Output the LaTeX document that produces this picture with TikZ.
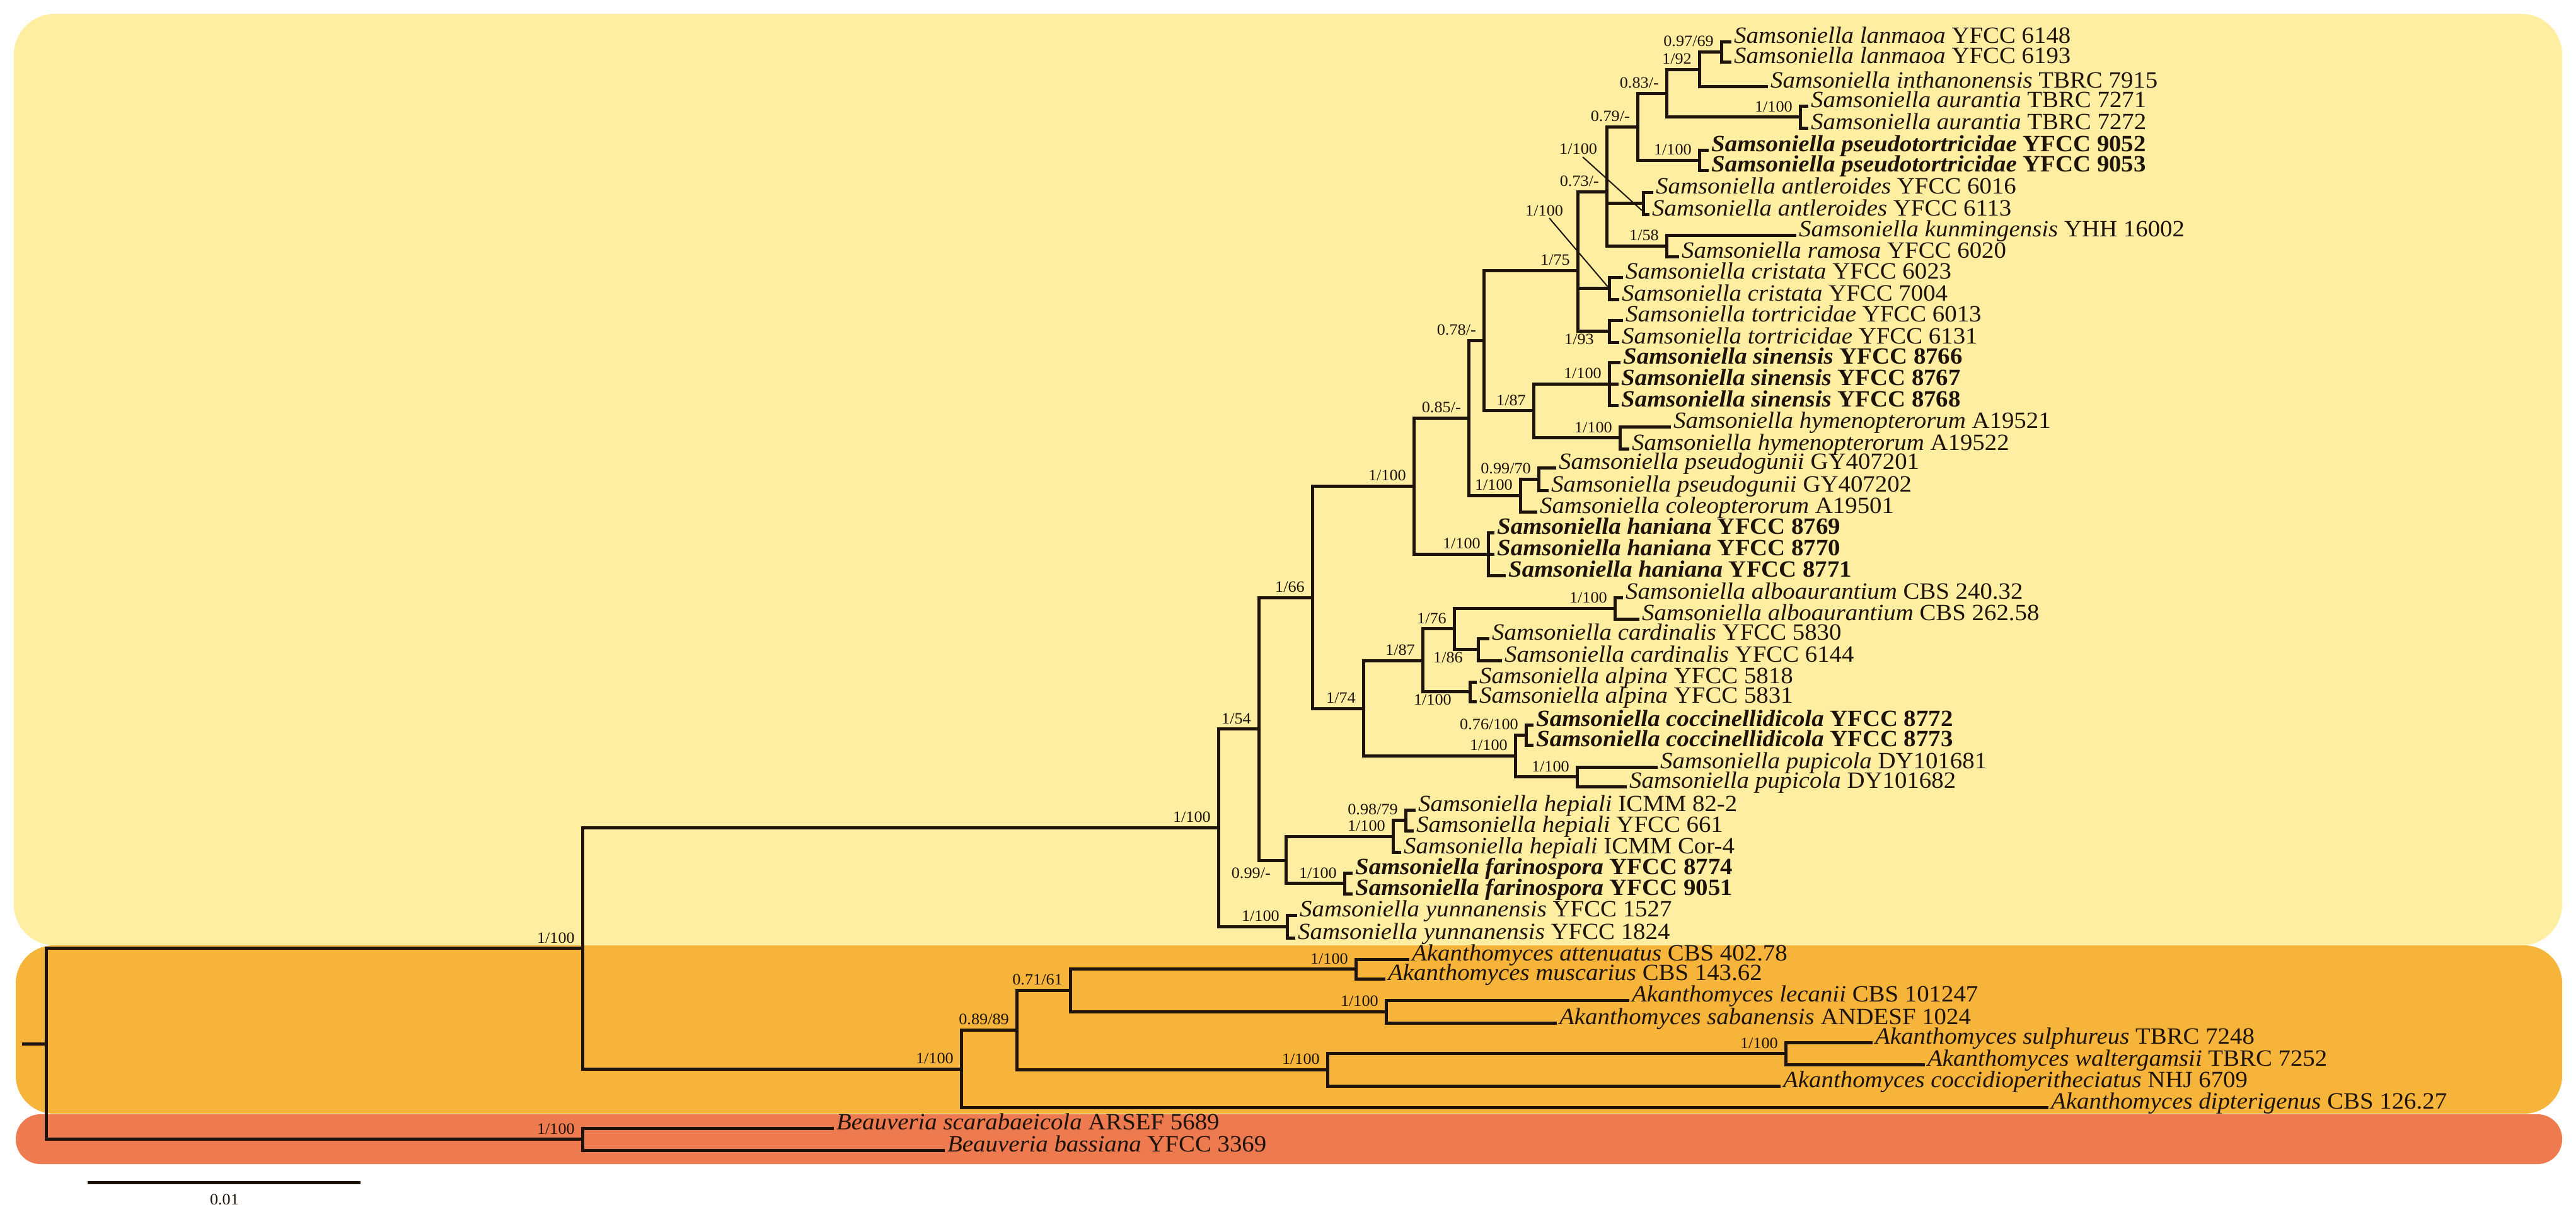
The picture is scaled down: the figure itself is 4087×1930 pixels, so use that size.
\documentclass[tikz,border=0pt]{standalone}
\usepackage{fontspec}
\setmainfont{Liberation Serif}[FakeStretch=1.05]
\definecolor{yelb}{HTML}{FDEEA1}
\definecolor{orgb}{HTML}{F6B53A}
\definecolor{redb}{HTML}{EE7A4F}
\definecolor{lc}{HTML}{1E1308}
\newcommand\tipfont{\fontsize{37}{38}\selectfont}
\newcommand\supfont{\fontsize{25}{26}\selectfont}
\newcommand\Sam[2]{\textit{Samsoniella #1} #2}
\newcommand\SamB[2]{\textbf{\textit{Samsoniella #1} #2}}
\newcommand\Aka[2]{\textit{Akanthomyces #1} #2}
\newcommand\Bea[2]{\textit{Beauveria #1} #2}
\tikzset{
  branch/.style={line width=5pt, draw=lc, line cap=rect},
  tiplab/.style={anchor=mid west, inner sep=0pt, xshift=7pt, font=\tipfont, text=lc},
  suplab/.style={anchor=south east, inner sep=0pt, xshift=-12pt, yshift=8pt, font=\supfont, text=lc},
  suplabb/.style={anchor=north east, inner sep=0pt, xshift=-12pt, yshift=-12pt, font=\supfont, text=lc},
  lead/.style={line width=2pt, draw=lc},
}
\newcommand\mktip[5]{\coordinate (#1) at (#2,#3); \draw[branch] (#4) |- (#1); \node[tiplab] (#1L) at (#1) {#5};}
\newcommand\brr[2]{\draw[branch] (#1) |- (#2);}
\newcommand\sv[3][]{\node[suplab,#1] (#2S) at (#2) {#3};}
\begin{document}
\begin{tikzpicture}[x=1pt,y=-1pt]
\useasboundingbox (0,0) rectangle (4087,1930);
% bands
\fill[yelb, rounded corners=65pt] (22,22) rectangle (4065,1500);
\fill[orgb, rounded corners=60pt] (25,1500) rectangle (4065,1767);
\fill[redb, rounded corners=39pt] (25,1768) rectangle (4065,1847);
% internal nodes
\coordinate (lan) at (2731,82);
\coordinate (s16) at (2696,110);
\coordinate (aur) at (2856,185.5);
\coordinate (s15) at (2644,148);
\coordinate (pse) at (2696,254);
\coordinate (s14) at (2598,201);
\coordinate (ant) at (2607,322.5);
\coordinate (km) at (2644,390);
\coordinate (s13) at (2549,304.5);
\coordinate (cri) at (2553,457.5);
\coordinate (tor) at (2553,525.5);
\coordinate (s11) at (2503,429);
\coordinate (sin) at (2553,609);
\coordinate (hym) at (2570,694.5);
\coordinate (s12) at (2433,651.5);
\coordinate (s10) at (2354,540);
\coordinate (pg) at (2441,760);
\coordinate (pgc) at (2412,786);
\coordinate (s9) at (2330,663);
\coordinate (han) at (2361,879);
\coordinate (s4) at (2243,771);
\coordinate (alb) at (2562,965);
\coordinate (car) at (2345,1030.5);
\coordinate (s8) at (2307,997.75);
\coordinate (alp) at (2332,1097.5);
\coordinate (s6) at (2257,1048);
\coordinate (coc) at (2421,1166);
\coordinate (pup) at (2502,1232.5);
\coordinate (s7) at (2404,1199);
\coordinate (s5) at (2163,1124);
\coordinate (s2) at (2082,948);
\coordinate (hepp) at (2230,1301.5);
\coordinate (hep) at (2210,1327);
\coordinate (far) at (2133,1401.5);
\coordinate (s3) at (2040,1365);
\coordinate (s1) at (1997,1156.5);
\coordinate (yun) at (2042,1470);
\coordinate (SA) at (1933,1313);
\coordinate (att) at (2151,1537.5);
\coordinate (lec) at (2199,1605);
\coordinate (a2) at (1698,1571.5);
\coordinate (sul) at (2833,1671.5);
\coordinate (a3) at (2106,1697);
\coordinate (a1) at (1613,1634.5);
\coordinate (AK) at (1525,1696);
\coordinate (S0) at (924,1504.5);
\coordinate (B) at (924,1807.5);
\coordinate (R) at (73,1656);
\coordinate (R0) at (37,1656);
% internal branches
\draw[branch] (R0) -- (R);
\brr{R}{S0} \brr{R}{B}
\brr{S0}{SA} \brr{S0}{AK}
\brr{SA}{s1} \brr{SA}{yun}
\brr{s1}{s2} \brr{s1}{s3}
\brr{s3}{hep} \brr{s3}{far} \brr{hep}{hepp}
\brr{s2}{s4} \brr{s2}{s5}
\brr{s5}{s6} \brr{s5}{s7}
\brr{s6}{s8} \brr{s6}{alp}
\brr{s8}{alb} \brr{s8}{car}
\brr{s7}{coc} \brr{s7}{pup}
\brr{s4}{s9} \brr{s4}{han}
\brr{s9}{s10} \brr{s9}{pgc} \brr{pgc}{pg}
\brr{s10}{s11} \brr{s10}{s12}
\brr{s12}{sin} \brr{s12}{hym}
\brr{s11}{s13} \brr{s11}{cri} \brr{s11}{tor}
\brr{s13}{s14} \brr{s13}{ant} \brr{s13}{km}
\brr{s14}{s15} \brr{s14}{pse}
\brr{s15}{s16} \brr{s15}{aur}
\brr{s16}{lan}
\brr{AK}{a1} \brr{a1}{a2} \brr{a1}{a3}
\brr{a2}{att} \brr{a2}{lec} \brr{a3}{sul}
% tips
\mktip{t01}{2744}{66}{lan}{\Sam{lanmaoa}{YFCC 6148}}
\mktip{t02}{2744}{98}{lan}{\Sam{lanmaoa}{YFCC 6193}}
\mktip{t03}{2802}{137}{s16}{\Sam{inthanonensis}{TBRC 7915}}
\mktip{t04}{2866}{168}{aur}{\Sam{aurantia}{TBRC 7271}}
\mktip{t05}{2866}{203}{aur}{\Sam{aurantia}{TBRC 7272}}
\mktip{t06}{2708}{238}{pse}{\SamB{pseudotortricidae}{YFCC 9052}}
\mktip{t07}{2708}{270}{pse}{\SamB{pseudotortricidae}{YFCC 9053}}
\mktip{t08}{2620}{305}{ant}{\Sam{antleroides}{YFCC 6016}}
\mktip{t09}{2614}{340}{ant}{\Sam{antleroides}{YFCC 6113}}
\mktip{t10}{2847}{373}{km}{\Sam{kunmingensis}{YHH 16002}}
\mktip{t11}{2661}{407}{km}{\Sam{ramosa}{YFCC 6020}}
\mktip{t12}{2572}{440}{cri}{\Sam{cristata}{YFCC 6023}}
\mktip{t13}{2566}{475}{cri}{\Sam{cristata}{YFCC 7004}}
\mktip{t14}{2572}{508}{tor}{\Sam{tortricidae}{YFCC 6013}}
\mktip{t15}{2566}{543}{tor}{\Sam{tortricidae}{YFCC 6131}}
\mktip{t16}{2568}{575}{sin}{\SamB{sinensis}{YFCC 8766}}
\mktip{t17}{2565}{609}{sin}{\SamB{sinensis}{YFCC 8767}}
\mktip{t18}{2565}{643}{sin}{\SamB{sinensis}{YFCC 8768}}
\mktip{t19}{2648}{677}{hym}{\Sam{hymenopterorum}{A19521}}
\mktip{t20}{2582}{712}{hym}{\Sam{hymenopterorum}{A19522}}
\mktip{t21}{2466}{742}{pg}{\Sam{pseudogunii}{GY407201}}
\mktip{t22}{2454}{778}{pg}{\Sam{pseudogunii}{GY407202}}
\mktip{t23}{2436}{812}{pgc}{\Sam{coleopterorum}{A19501}}
\mktip{t24}{2368}{845}{han}{\SamB{haniana}{YFCC 8769}}
\mktip{t25}{2368}{879}{han}{\SamB{haniana}{YFCC 8770}}
\mktip{t26}{2386}{913}{han}{\SamB{haniana}{YFCC 8771}}
\mktip{t27}{2572}{948}{alb}{\Sam{alboaurantium}{CBS 240.32}}
\mktip{t28}{2598}{982}{alb}{\Sam{alboaurantium}{CBS 262.58}}
\mktip{t29}{2360}{1013}{car}{\Sam{cardinalis}{YFCC 5830}}
\mktip{t30}{2380}{1048}{car}{\Sam{cardinalis}{YFCC 6144}}
\mktip{t31}{2340}{1082}{alp}{\Sam{alpina}{YFCC 5818}}
\mktip{t32}{2340}{1113}{alp}{\Sam{alpina}{YFCC 5831}}
\mktip{t33}{2430}{1150}{coc}{\SamB{coccinellidicola}{YFCC 8772}}
\mktip{t34}{2430}{1182}{coc}{\SamB{coccinellidicola}{YFCC 8773}}
\mktip{t35}{2627}{1217}{pup}{\Sam{pupicola}{DY101681}}
\mktip{t36}{2578}{1248}{pup}{\Sam{pupicola}{DY101682}}
\mktip{t37}{2243}{1285}{hepp}{\Sam{hepiali}{ICMM 82-2}}
\mktip{t38}{2240}{1318}{hepp}{\Sam{hepiali}{YFCC 661}}
\mktip{t39}{2220}{1352}{hep}{\Sam{hepiali}{ICMM Cor-4}}
\mktip{t40}{2143}{1385}{far}{\SamB{farinospora}{YFCC 8774}}
\mktip{t41}{2143}{1418}{far}{\SamB{farinospora}{YFCC 9051}}
\mktip{t42}{2055}{1452}{yun}{\Sam{yunnanensis}{YFCC 1527}}
\mktip{t43}{2052}{1488}{yun}{\Sam{yunnanensis}{YFCC 1824}}
\mktip{t44}{2233}{1522}{att}{\Aka{attenuatus}{CBS 402.78}}
\mktip{t45}{2195}{1553}{att}{\Aka{muscarius}{CBS 143.62}}
\mktip{t46}{2582}{1587}{lec}{\Aka{lecanii}{CBS 101247}}
\mktip{t47}{2467}{1623}{lec}{\Aka{sabanensis}{ANDESF 1024}}
\mktip{t48}{2968}{1654}{sul}{\Aka{sulphureus}{TBRC 7248}}
\mktip{t49}{3051}{1689}{sul}{\Aka{waltergamsii}{TBRC 7252}}
\mktip{t50}{2822}{1723}{a3}{\Aka{coccidioperitheciatus}{NHJ 6709}}
\mktip{t51}{3247}{1757}{AK}{\Aka{dipterigenus}{CBS 126.27}}
\mktip{t52}{1320}{1790}{B}{\Bea{scarabaeicola}{ARSEF 5689}}
\mktip{t53}{1496}{1825}{B}{\Bea{bassiana}{YFCC 3369}}
% support values
\sv{lan}{0.97/69}
\sv{s16}{1/92}
\sv{s15}{0.83/-}
\sv{aur}{1/100}
\sv{s14}{0.79/-}
\sv{pse}{1/100}
\sv{s13}{0.73/-}
\sv{km}{1/58}
\sv[suplabb]{tor}{1/93}
\sv{s11}{1/75}
\sv{sin}{1/100}
\sv{hym}{1/100}
\sv{s12}{1/87}
\sv{s10}{0.78/-}
\sv{pg}{0.99/70}
\sv{pgc}{1/100}
\sv{s9}{0.85/-}
\sv{han}{1/100}
\sv{s4}{1/100}
\sv{alb}{1/100}
\sv[suplabb]{car}{1/86}
\sv{s8}{1/76}
\sv[suplabb,xshift=-5pt]{alp}{1/100}
\sv{s6}{1/87}
\sv{coc}{0.76/100}
\sv{pup}{1/100}
\sv{s7}{1/100}
\sv{s5}{1/74}
\sv{s2}{1/66}
\sv{hepp}{0.98/79}
\sv{hep}{1/100}
\sv{far}{1/100}
\sv[suplabb,yshift=-8pt]{s3}{0.99/-}
\sv{s1}{1/54}
\sv{yun}{1/100}
\sv{SA}{1/100}
\sv{att}{1/100}
\sv{lec}{1/100}
\sv{a2}{0.71/61}
\sv{sul}{1/100}
\sv{a3}{1/100}
\sv{a1}{0.89/89}
\sv{AK}{1/100}
\sv{S0}{1/100}
\sv{B}{1/100}
% labels with leader lines
\node[font=\supfont, text=lc, inner sep=0pt, anchor=south west] (antS) at (2474,245) {1/100};
\coordinate (antE) at (2605,334);
\draw[lead] (2511,249) -- (antE);
\node[font=\supfont, text=lc, inner sep=0pt, anchor=south west] (criS) at (2420,343) {1/100};
\draw[lead] (2458,346) -- (cri);
% scale bar
\coordinate (sb1) at (139,1876);
\coordinate (sb2) at (572,1876);
\draw[line width=5pt, draw=lc] (sb1) -- (sb2);
\node[font=\supfont, text=lc, inner sep=0pt] (sbl) at (356,1903) {0.01};
\end{tikzpicture}
\end{document}
